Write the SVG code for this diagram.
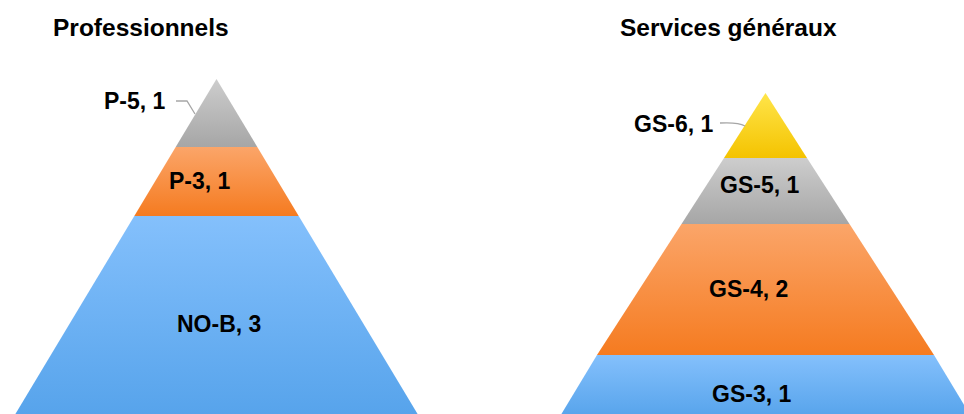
<svg xmlns="http://www.w3.org/2000/svg" width="964" height="414" viewBox="0 0 964 414">
<defs>
<linearGradient id="gGray" x1="0" y1="0" x2="0" y2="1"><stop offset="0" stop-color="#cdcdcd"/><stop offset="1" stop-color="#a6a6a6"/></linearGradient>
<linearGradient id="gOrange" x1="0" y1="0" x2="0" y2="1"><stop offset="0" stop-color="#fba569"/><stop offset="1" stop-color="#f57b20"/></linearGradient>
<linearGradient id="gBlue" x1="0" y1="0" x2="0" y2="1"><stop offset="0" stop-color="#84c0fc"/><stop offset="1" stop-color="#56a3eb"/></linearGradient>
<linearGradient id="gYellow" x1="0" y1="0" x2="0" y2="1"><stop offset="0" stop-color="#ffe54a"/><stop offset="1" stop-color="#f4c300"/></linearGradient>
</defs>
<style>
.title{font-family:"Liberation Sans",Arial,sans-serif;font-weight:bold;font-size:24.5px;fill:#000}
.lbl{font-family:"Liberation Sans",Arial,sans-serif;font-weight:bold;font-size:23px;fill:#000}
.lead{fill:none;stroke:#a6a6a6;stroke-width:1.3}
</style>
<rect width="964" height="414" fill="#ffffff"/>
<text class="title" x="53" y="36">Professionnels</text>
<text class="title" x="620" y="36">Services généraux</text>
<g id="left-pyramid">
<g id="p5"><polygon points="216.5,79 257.3,147 175.7,147" fill="url(#gGray)"/></g>
<g id="p3"><polygon points="175.7,147 257.3,147 298.7,216 134.3,216" fill="url(#gOrange)"/><text class="lbl" x="169" y="189">P-3, 1</text></g>
<g id="nob"><polygon points="134.3,216 298.7,216 420,418 13,418" fill="url(#gBlue)"/><text class="lbl" x="177" y="332">NO-B, 3</text></g>
</g>
<g id="right-pyramid">
<g id="gs6"><polygon points="765.5,93 807,158 724,158" fill="url(#gYellow)"/></g>
<g id="gs5"><polygon points="724,158 807,158 849.5,224 681.5,224" fill="url(#gGray)"/><text class="lbl" x="720" y="193">GS-5, 1</text></g>
<g id="gs4"><polygon points="681.5,224 849.5,224 934,355 597,355" fill="url(#gOrange)"/><text class="lbl" x="709" y="297">GS-4, 2</text></g>
<g id="gs3"><polygon points="597,355 934,355 972,418 559,418" fill="url(#gBlue)"/><text class="lbl" x="712" y="402">GS-3, 1</text></g>
</g>
<g id="connectors">
<path class="lead" d="M176,101 L187,101 L195,114"/>
<path class="lead" d="M720,123 Q738,122 745,126"/>
</g>
<g id="outside-labels">
<text class="lbl" x="104" y="109">P-5, 1</text>
<text class="lbl" x="634" y="132">GS-6, 1</text>
</g>
</svg>
